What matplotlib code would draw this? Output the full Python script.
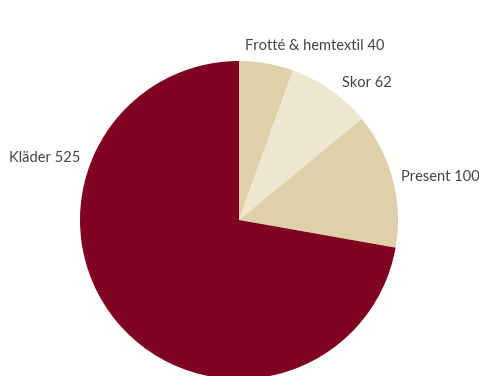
import matplotlib.pyplot as plt

labels = ['Frotté & hemtextil', 'Skor', 'Present', 'Kläder']
values = [40, 62, 100, 525]
colors = ['#e0d0a9', '#ede6d0', '#e0d0a9', '#800020']

# label anchor points (pixels, y down) and alignment
label_pos = [(245, 46), (342, 83), (401, 177), (80, 158)]
label_ha = ['left', 'left', 'left', 'right']

plt.rcParams['font.family'] = ['Lato', 'DejaVu Sans']

fig = plt.figure(figsize=(4.79, 3.76), dpi=100)
ax = fig.add_axes([0, 0, 1, 1])

ax.pie(values, colors=colors, startangle=90, counterclock=False,
       center=(239, 376 - 220), radius=159, frame=True,
       wedgeprops={'linewidth': 0})
ax.set_xlim(0, 479)
ax.set_ylim(0, 376)
ax.axis('off')

for lab, v, (x, y), ha in zip(labels, values, label_pos, label_ha):
    ax.text(x, 376 - y, f'{lab} {v}', ha=ha, va='center',
            fontsize=10.5, color='#444444', zorder=5)

fig.savefig('out.png', dpi=100)
